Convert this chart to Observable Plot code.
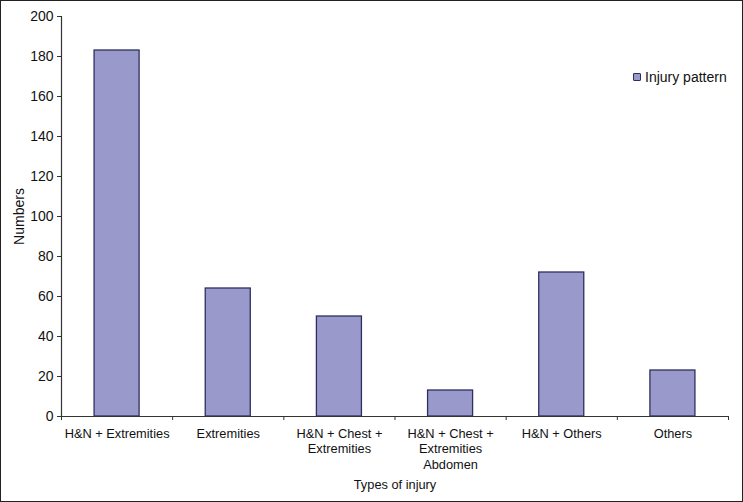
<!DOCTYPE html>
<html>
<head>
<meta charset="utf-8">
<script src="https://cdn.jsdelivr.net/npm/d3@7"></script>
<script src="https://cdn.jsdelivr.net/npm/@observablehq/plot@0.6"></script>
<style>
  html, body { margin: 0; padding: 0; background: #fff; }
  #wrap { position: relative; width: 743px; height: 502px; }
  #wrap svg { display: block; outline: 1.5px solid #222; outline-offset: -1.5px; }
  #legend { position: absolute; left: 633px; top: 69px; font: 14px "Liberation Sans", Arial, sans-serif; color: #111; display: flex; align-items: center; }
  #legend .sw { width: 6px; height: 6px; background: #9999cc; border: 1px solid #2f2f5f; border-radius: 1px; margin-right: 4px; }
</style>
</head>
<body>
<div id="wrap"></div>
<script>
const categories = [
  "H&N + Extremities",
  "Extremities",
  "H&N + Chest +\nExtremities",
  "H&N + Chest +\nExtremities\nAbdomen",
  "H&N + Others",
  "Others"
];
const values = [183, 64, 50, 13, 72, 23];
const yTicks = [0, 20, 40, 60, 80, 100, 120, 140, 160, 180, 200];
const seriesName = "Injury pattern";

const data = categories.map((c, i) => ({cat: c, value: values[i]}));

const W = 743, H = 502, mL = 61, mR = 15, mT = 16, mB = 86;
const step = (W - mL - mR) / categories.length;
const font = '"Liberation Sans", Arial, sans-serif';

const chart = Plot.plot({
  width: W,
  height: H,
  marginLeft: mL,
  marginRight: mR,
  marginTop: mT,
  marginBottom: mB,
  style: {fontFamily: font, color: "#111", background: "#fff", overflow: "visible"},
  x: {domain: categories, paddingInner: 0.595, paddingOuter: 0.2975, round: false},
  y: {domain: [0, 200]},
  marks: [
    Plot.barY(data, {x: "cat", y: "value", fill: "#9999cc", stroke: "#2f2f5f", strokeWidth: 1.3}),
    Plot.frame({anchor: "left", stroke: "#333", strokeWidth: 1.2}),
    Plot.ruleY([0], {stroke: "#333", strokeWidth: 1.2}),
    Plot.axisY({ticks: yTicks, tickSize: 4, tickPadding: 4, fontSize: 14, stroke: "#333",
      label: "Numbers", labelAnchor: "center", labelArrow: "none", labelOffset: 47, fontSize: 14}),
    Plot.axisX({ticks: categories, tickSize: 4, text: null, label: null, dx: -step / 2, stroke: "#333"}),
    Plot.axisX({ticks: [categories[categories.length - 1]], tickSize: 4, text: null, label: null, dx: step / 2, stroke: "#333"}),
    Plot.axisX({tickSize: 0, tickPadding: 10.5, fontSize: 12.8, lineHeight: 1.2,
      label: "Types of injury", labelAnchor: "center", labelArrow: "none", labelOffset: 72})
  ]
});

const wrap = document.getElementById("wrap");
wrap.appendChild(chart);
const lg = document.createElement("div");
lg.id = "legend";
lg.innerHTML = `<span class="sw"></span><span>${seriesName}</span>`;
wrap.appendChild(lg);
</script>
</body>
</html>
